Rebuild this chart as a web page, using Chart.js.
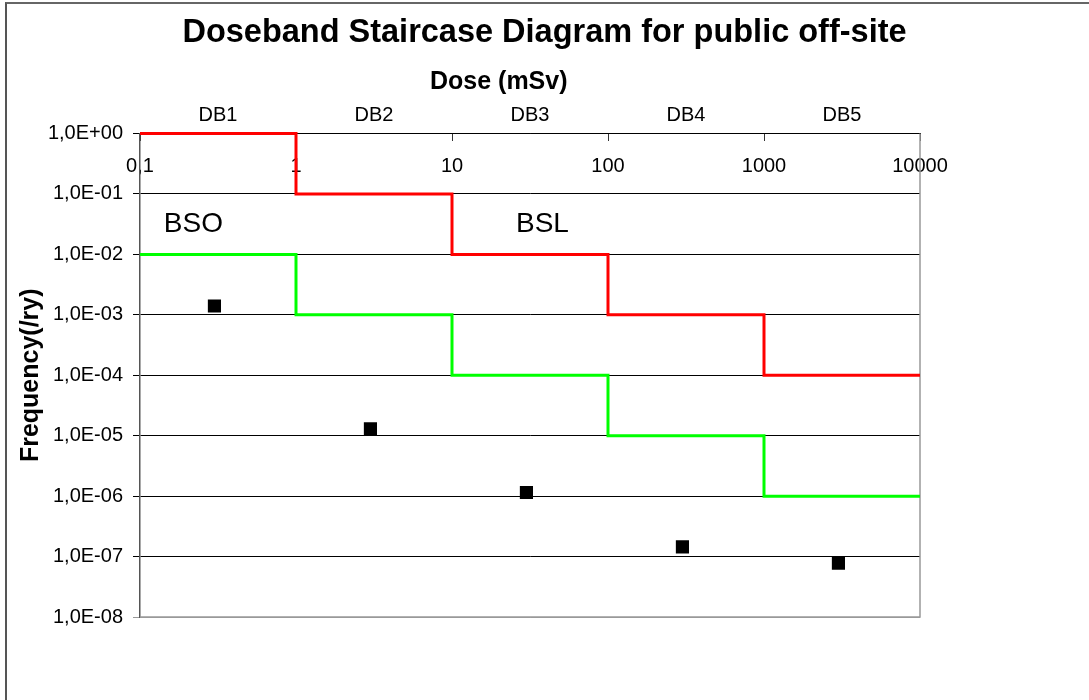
<!DOCTYPE html>
<html>
<head>
<meta charset="utf-8">
<script src="https://cdn.jsdelivr.net/npm/chart.js@4.4.1/dist/chart.umd.min.js"></script>
<style>
    html, body { margin: 0; padding: 0; background: #fff; }
    #wrap { position: relative; width: 1089px; height: 700px; overflow: hidden; }
    #frame { position: absolute; left: 5px; top: 2px; width: 1100px; height: 720px;
             border-top: 2px solid #666; border-left: 2px solid #555; }
    #chart { position: absolute; left: 0; top: 0; }
</style>
</head>
<body>
<div id="wrap">
    <div id="frame"></div>
    <canvas id="chart" width="1089" height="700"></canvas>
</div>
<script>
// dose band edges (mSv) and the band names shown on top
const doseEdges = [0.1, 1, 10, 100, 1000, 10000];
const bandNames = ['DB1', 'DB2', 'DB3', 'DB4', 'DB5'];

// limit frequency per band (/ry)
const bslLimits = [1, 0.1, 0.01, 0.001, 0.0001];
const bsoLimits = [0.01, 0.001, 0.0001, 0.00001, 0.000001];

// calculated results (one point per band)
const resultDose = [0.3, 3, 30, 300, 3000];
const resultFreq = [1.4e-3, 1.3e-5, 1.15e-6, 1.45e-7, 7.8e-8];

// frequency decades on the y axis
const freqTicks = [1, 1e-1, 1e-2, 1e-3, 1e-4, 1e-5, 1e-6, 1e-7, 1e-8];

// region labels
const regionNames = ['BSO', 'BSL'];
const regionDose = [0.22, 38];
const regionFreq = [0.0316, 0.0316];

const FONT = '"Liberation Sans", Arial, sans-serif';

// staircase: each band value from its left edge, last value repeated at the right edge
function staircase(limits) {
    return doseEdges.map((x, i) => ({ x: x, y: limits[Math.min(i, limits.length - 1)] }));
}

function sciLabel(v) {
    const exp = Math.round(Math.log10(v));
    const sign = exp < 0 ? '-' : '+';
    return '1,0E' + sign + String(Math.abs(exp)).padStart(2, '0');
}

function doseLabel(v) {
    return String(v).replace('.', ',');
}

const plotFrame = {
    id: 'plotFrame',
    beforeDatasetsDraw(chart) {
        const a = chart.chartArea;
        const ctx = chart.ctx;
        ctx.save();
        ctx.strokeStyle = '#999';
        ctx.lineWidth = 1.5;
        ctx.beginPath();
        ctx.moveTo(a.right, a.top);
        ctx.lineTo(a.right, a.bottom);
        ctx.lineTo(a.left, a.bottom);
        ctx.stroke();
        ctx.restore();
    }
};

const regionText = {
    id: 'regionText',
    afterDatasetsDraw(chart) {
        const ctx = chart.ctx;
        const xs = chart.scales.x;
        const ys = chart.scales.y;
        ctx.save();
        ctx.font = '28px ' + FONT;
        ctx.fillStyle = '#000';
        ctx.textAlign = 'center';
        ctx.textBaseline = 'middle';
        regionNames.forEach((name, i) => {
            ctx.fillText(name, xs.getPixelForValue(regionDose[i]), ys.getPixelForValue(regionFreq[i]));
        });
        ctx.restore();
    }
};

new Chart(document.getElementById('chart'), {
    type: 'scatter',
    data: {
        datasets: [
            {
                label: 'Results',
                data: resultDose.map((x, i) => ({ x: x, y: resultFreq[i] })),
                pointStyle: 'rect',
                pointRadius: 9.3,
                backgroundColor: '#000',
                borderColor: '#000',
                borderWidth: 0,
                order: 0
            },
            {
                label: 'BSL',
                data: staircase(bslLimits),
                showLine: true,
                stepped: 'before',
                borderColor: '#ff0000',
                borderWidth: 3,
                pointRadius: 0,
                clip: 4,
                order: 1
            },
            {
                label: 'BSO',
                data: staircase(bsoLimits),
                showLine: true,
                stepped: 'before',
                borderColor: '#00ff00',
                borderWidth: 3,
                pointRadius: 0,
                clip: 4,
                order: 2
            }
        ]
    },
    options: {
        responsive: false,
        animation: false,
        devicePixelRatio: 1,
        layout: { padding: { left: 0, right: 0, top: 0, bottom: 83 } },
        plugins: {
            legend: { display: false },
            tooltip: { enabled: false },
            title: {
                display: true,
                text: 'Doseband Staircase Diagram for public off-site',
                color: '#000',
                font: { family: FONT, size: 32.5, weight: 'bold' },
                padding: { top: 14, bottom: 0 }
            }
        },
        scales: {
            x: {
                type: 'logarithmic',
                position: { y: 1 },
                min: 0.1,
                max: 10000,
                afterBuildTicks: (scale) => { scale.ticks = doseEdges.map(v => ({ value: v })); },
                ticks: {
                    color: '#000',
                    padding: 14,
                    autoSkip: false,
                    maxRotation: 0,
                    font: { family: FONT, size: 20 },
                    callback: (v) => doseLabel(v)
                },
                grid: { display: true, drawOnChartArea: false, drawTicks: true, tickLength: 7, color: '#333' },
                border: { display: true, color: '#000', width: 1 }
            },
            x2: {
                type: 'category',
                position: 'top',
                labels: bandNames,
                offset: true,
                afterFit: (scale) => { scale.height = 80.5; },
                ticks: {
                    color: '#000',
                    padding: -2,
                    font: { family: FONT, size: 20 }
                },
                grid: { display: false },
                border: { display: false },
                title: {
                    display: true,
                    // trailing no-break spaces pull the centred title a bit to the left, as in the original
                    text: 'Dose (mSv)' + '\u00A0'.repeat(9),
                    color: '#000',
                    font: { family: FONT, size: 25, weight: 'bold' },
                    padding: { top: 14, bottom: 0 }
                }
            },
            y: {
                type: 'logarithmic',
                position: 'left',
                min: 1e-8,
                max: 1,
                afterFit: (scale) => { scale.width = 140; },
                afterBuildTicks: (scale) => { scale.ticks = freqTicks.map(v => ({ value: v })); },
                ticks: {
                    color: '#000',
                    padding: 10,
                    autoSkip: false,
                    font: { family: FONT, size: 20 },
                    callback: (v) => sciLabel(v)
                },
                grid: {
                    color: (c) => (c.tick && c.tick.value === 1e-8 ? '#999' : '#000'),
                    lineWidth: 1,
                    tickLength: 7
                },
                border: { display: true, color: '#555', width: 1.5 },
                title: {
                    display: true,
                    text: 'Frequency(/ry)',
                    color: '#000',
                    font: { family: FONT, size: 25, weight: 'bold' },
                    padding: { top: 16, bottom: 0 }
                }
            },
            // empty right-hand axis that only reserves the white margin right of the plot
            yRight: {
                type: 'linear',
                position: 'right',
                afterFit: (scale) => { scale.width = 169; },
                ticks: { display: false },
                grid: { display: false },
                border: { display: false }
            }
        }
    },
    plugins: [plotFrame, regionText]
});
</script>
</body>
</html>
